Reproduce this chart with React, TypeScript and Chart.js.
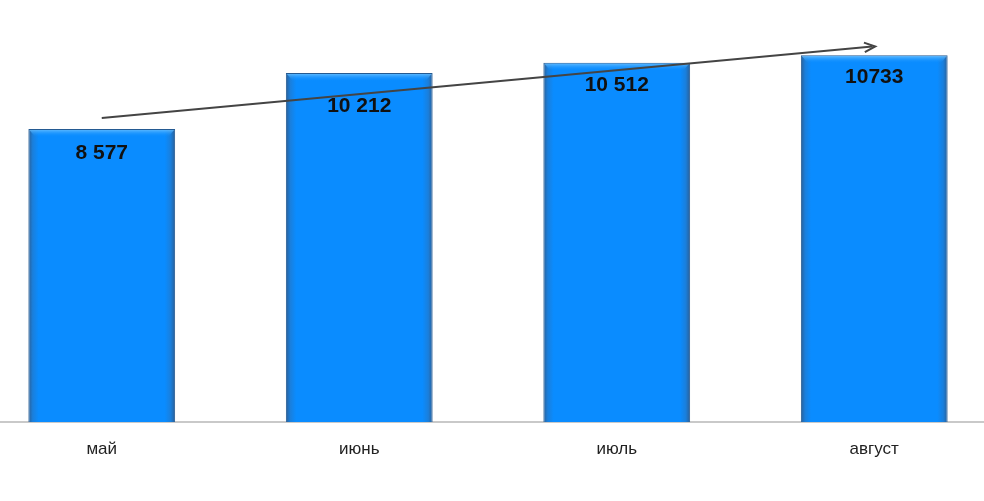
import React, { useEffect, useRef } from "react";
import { Chart, registerables } from "chart.js";

Chart.register(...registerables);

const categories = ["май", "июнь", "июль", "август"];
const values = [8577, 10212, 10512, 10733];
const valueLabels = ["8 577", "10 212", "10 512", "10733"];
const labelDy = [24, 33, 22, 22];
const trendValues = [8900, 10990];

const barGradient = (ctx: any) => {
  const chart = ctx.chart;
  const xs = chart.scales?.x;
  if (!chart.chartArea || !xs || ctx.dataIndex === undefined) return "#0a8cff";
  const cx = xs.getPixelForValue(ctx.dataIndex);
  const w = (chart.chartArea.width / categories.length) * 0.57;
  const g = chart.ctx.createLinearGradient(cx - w / 2, 0, cx + w / 2, 0);
  g.addColorStop(0, "#2b5f96");
  g.addColorStop(0.03, "#1a7fdc");
  g.addColorStop(0.07, "#0a8cff");
  g.addColorStop(0.93, "#0a8cff");
  g.addColorStop(0.97, "#1a7fdc");
  g.addColorStop(1, "#2b5f96");
  return g;
};

const overlayPlugin = {
  id: "overlay",
  afterDatasetsDraw(chart: any) {
    const { ctx } = chart;
    const meta = chart.getDatasetMeta(0);
    const ys = chart.scales.y;
    ctx.save();
    meta.data.forEach((bar: any, i: number) => {
      const left = bar.x - bar.width / 2;
      const right = bar.x + bar.width / 2;
      const tg = ctx.createLinearGradient(0, bar.y, 0, bar.y + 8);
      tg.addColorStop(0, "rgba(120,200,255,0.9)");
      tg.addColorStop(1, "rgba(10,140,255,0)");
      ctx.fillStyle = tg;
      ctx.beginPath();
      ctx.moveTo(left + 1, bar.y + 1);
      ctx.lineTo(right - 1, bar.y + 1);
      ctx.lineTo(right - 7, bar.y + 8);
      ctx.lineTo(left + 7, bar.y + 8);
      ctx.closePath();
      ctx.fill();
      ctx.fillStyle = "#111";
      ctx.font = "bold 21px Arial, 'Liberation Sans', sans-serif";
      ctx.textAlign = "center";
      ctx.textBaseline = "middle";
      ctx.fillText(valueLabels[i], bar.x, bar.y + labelDy[i]);
    });
    const x0 = meta.data[0].x;
    const x1 = meta.data[meta.data.length - 1].x;
    const y0 = ys.getPixelForValue(trendValues[0]);
    const y1 = ys.getPixelForValue(trendValues[1]);
    ctx.strokeStyle = "#444";
    ctx.lineWidth = 2;
    ctx.beginPath();
    ctx.moveTo(x0, y0);
    ctx.lineTo(x1 - 2, y1);
    ctx.stroke();
    const ang = Math.atan2(y1 - y0, x1 - x0);
    const len = 11;
    ctx.beginPath();
    ctx.moveTo(x1 - len * Math.cos(ang - 0.45), y1 - len * Math.sin(ang - 0.45));
    ctx.lineTo(x1 + 1, y1);
    ctx.lineTo(x1 - len * Math.cos(ang + 0.45), y1 - len * Math.sin(ang + 0.45));
    ctx.stroke();
    ctx.restore();
  },
};

export default function App() {
  const ref = useRef<HTMLCanvasElement>(null);
  useEffect(() => {
    if (!ref.current) return;
    const chart = new Chart(ref.current, {
      type: "bar",
      data: {
        labels: categories,
        datasets: [
          {
            data: values,
            backgroundColor: barGradient,
            borderColor: "#245a92",
            borderWidth: 1,
            barPercentage: 0.57,
            categoryPercentage: 1,
          },
        ],
      },
      options: {
        responsive: false,
        animation: false,
        layout: { padding: 0 },
        plugins: { legend: { display: false }, tooltip: { enabled: false } },
        scales: {
          x: {
            grid: { display: false },
            border: { display: true, color: "#c9c9c9", width: 2 },
            ticks: {
              color: "#222",
              font: { size: 17, family: "Arial, 'Liberation Sans', sans-serif" },
              padding: 9,
            },
            afterFit: (s: any) => {
              s.height = 79;
            },
          },
          y: {
            display: false,
            min: 0,
            max: 12350,
          },
        },
      },
      plugins: [overlayPlugin],
    });
    return () => chart.destroy();
  }, []);
  return (
    <div
      style={{
        position: "fixed",
        left: 0,
        top: 0,
        width: 984,
        height: 501,
        overflow: "hidden",
        background: "#fff",
      }}
    >
      <canvas
        ref={ref}
        width={1030}
        height={501}
        style={{ position: "absolute", left: -27, top: 0, width: 1030, height: 501 }}
      />
    </div>
  );
}
